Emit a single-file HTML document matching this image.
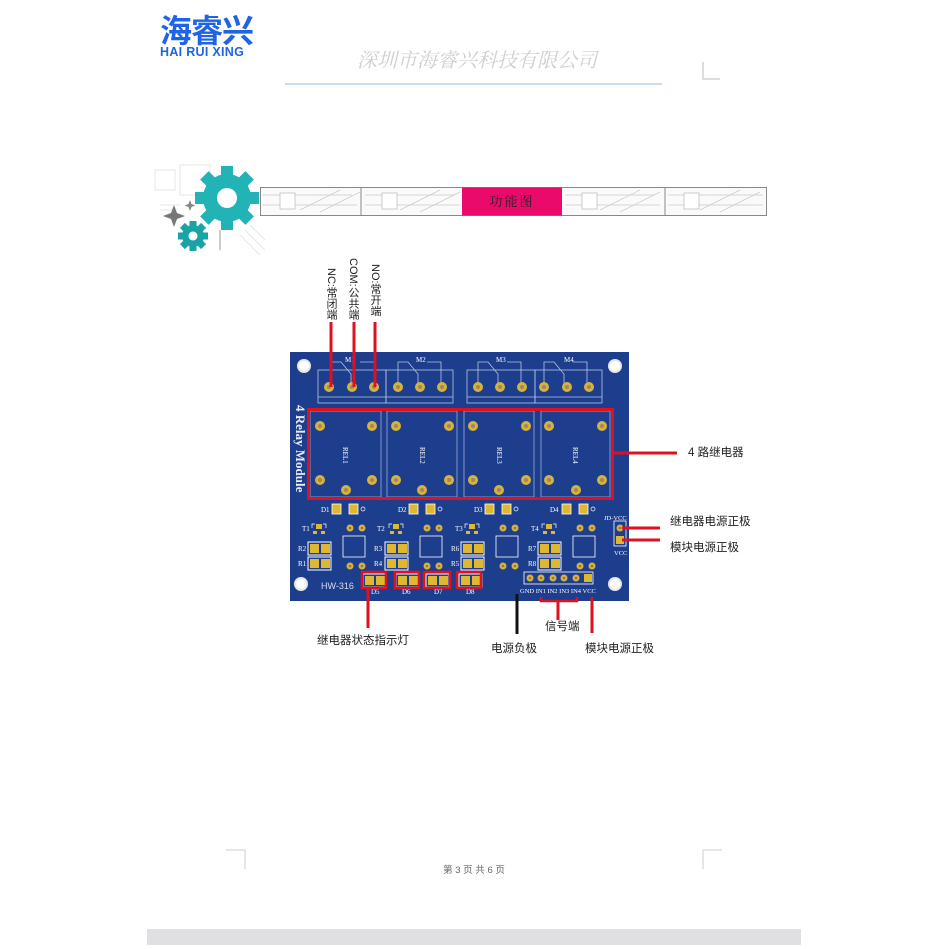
<!DOCTYPE html>
<html><head><meta charset="utf-8"><style>
html,body{margin:0;padding:0;background:#fff;width:949px;height:949px;overflow:hidden}
svg{display:block}
.cj{font-family:"Liberation Sans","Noto Sans CJK SC",sans-serif}
.sf{font-family:"Liberation Serif","Noto Serif CJK SC",serif}
.vt{writing-mode:vertical-rl;text-orientation:mixed}
</style></head><body>
<svg width="949" height="949" viewBox="0 0 949 949" xmlns="http://www.w3.org/2000/svg">
<defs>
  <g id="pad"><circle r="5" fill="#d9b23c"/><circle r="2" fill="#9c8b5a"/></g>
  <g id="spad"><circle r="3.5" fill="#d9b23c"/><circle r="1.3" fill="#8a7a4a"/></g>
  <g id="smd"><rect x="-1" y="-1" width="23" height="13" fill="none" stroke="#fff" stroke-width="1"/><rect x="1" y="1" width="9" height="9" fill="#e0b830"/><rect x="12" y="1" width="9" height="9" fill="#e0b830"/></g>
  <g id="hole"><circle r="7" fill="#e8e8e8"/><circle r="5" fill="#fff"/></g>
</defs>

<!-- header -->
<text x="160" y="42" class="cj" font-size="32" font-weight="bold" fill="#1f63e6" letter-spacing="-1">海睿兴</text>
<text x="160" y="56" class="cj" font-size="12.5" font-weight="bold" fill="#1f63e6" letter-spacing="0.3">HAI RUI XING</text>
<text x="477" y="67" text-anchor="middle" class="sf" font-size="20" font-style="italic" fill="#cfcfcf">深圳市海睿兴科技有限公司</text>
<line x1="285" y1="84" x2="662" y2="84" stroke="#aac8e8" stroke-width="1.2"/>
<polyline points="703,62 703,79 720,79" fill="none" stroke="#bbb" stroke-width="1"/>

<!-- gears -->
<g opacity="0.5" stroke="#bbb" stroke-width="0.7" fill="none">
  <path d="M155 170 h20 v20 h-20z M180 165 h30 v30 h-30z M160 205 h20 M160 210 h15 M240 235 l20 20 M245 230 l20 20 M250 225 l15 15"/>
</g>
<g fill="#21b3b6">
  <g transform="translate(227,198)">
    <circle r="24"/>
    <g id="tooth"><rect x="-6" y="-32" width="12" height="12"/></g>
    <use href="#tooth" transform="rotate(45)"/><use href="#tooth" transform="rotate(90)"/><use href="#tooth" transform="rotate(135)"/>
    <use href="#tooth" transform="rotate(180)"/><use href="#tooth" transform="rotate(225)"/><use href="#tooth" transform="rotate(270)"/><use href="#tooth" transform="rotate(315)"/>
    <circle r="10" fill="#fff"/>
  </g>
  <g transform="translate(193,236)" fill="#1aa3a6">
    <circle r="11"/>
    <g id="t2"><rect x="-3.5" y="-15" width="7" height="6"/></g>
    <use href="#t2" transform="rotate(45)"/><use href="#t2" transform="rotate(90)"/><use href="#t2" transform="rotate(135)"/>
    <use href="#t2" transform="rotate(180)"/><use href="#t2" transform="rotate(225)"/><use href="#t2" transform="rotate(270)"/><use href="#t2" transform="rotate(315)"/>
    <circle r="4.5" fill="#fff"/>
  </g>
</g>
<path d="M174 205 l3 8 8 3 -8 3 -3 8 -3 -8 -8 -3 8 -3z" fill="#777"/>
<path d="M190 200 l1.5 4 4 1.5 -4 1.5 -1.5 4 -1.5 -4 -4 -1.5 4 -1.5z" fill="#888"/>
<line x1="220" y1="230" x2="220" y2="250" stroke="#999" stroke-width="1"/>

<!-- banner -->
<rect x="260.5" y="187.5" width="506" height="28" fill="#fafafa" stroke="#888" stroke-width="1"/>
<g stroke="#ccc" stroke-width="0.7" fill="none">
  <path d="M262 195 h90 M262 205 h95 M300 210 l40 -20 M320 212 l40 -20 M365 195 h90 M365 205 h95 M400 210 l40 -20 M420 212 l40 -20 M565 195 h90 M565 205 h95 M600 210 l40 -20 M620 212 l40 -20 M668 195 h95 M668 205 h95 M700 210 l40 -20 M720 212 l40 -20"/>
</g>
<g fill="#fff" stroke="#aaa" stroke-width="0.6">
  <rect x="280" y="193" width="15" height="16"/><rect x="382" y="193" width="15" height="16"/>
  <rect x="582" y="193" width="15" height="16"/><rect x="684" y="193" width="15" height="16"/>
</g>
<g stroke="#888" stroke-width="1"><line x1="361" y1="188" x2="361" y2="215"/><line x1="665" y1="188" x2="665" y2="215"/></g>
<rect x="462" y="187.5" width="100" height="28" fill="#ea0a6c"/>
<text x="512" y="206" text-anchor="middle" class="sf" font-size="13" fill="#222" letter-spacing="2">功能图</text>

<!-- top labels vertical -->
<g class="cj vt" font-size="11" fill="#222">
  <text x="331" y="268">NC:常闭端</text>
  <text x="353" y="258">COM:公共端</text>
  <text x="375" y="264">NO:常开端</text>
</g>

<!-- PCB -->
<rect x="290" y="352" width="339" height="249" fill="#1d3d8d"/>
<use href="#hole" x="304" y="366"/><use href="#hole" x="615" y="366"/>
<use href="#hole" x="301" y="584"/><use href="#hole" x="615" y="584"/>

<!-- terminal blocks -->
<g fill="none" stroke="#b8c6e0" stroke-width="0.8">
  <rect x="318" y="370" width="68" height="33"/><line x1="318" y1="397" x2="386" y2="397"/>
  <rect x="386" y="370" width="67" height="33"/><line x1="386" y1="397" x2="453" y2="397"/>
  <rect x="467" y="370" width="68" height="33"/><line x1="467" y1="397" x2="535" y2="397"/>
  <rect x="535" y="370" width="67" height="33"/><line x1="535" y1="397" x2="602" y2="397"/>
  <path d="M331 384 v-22 h10 l10 12 v10 M360 362 h14 v22"/>
  <path d="M398 384 v-22 h10 l10 12 v10 M427 362 h14 v22"/>
  <path d="M478 384 v-22 h10 l10 12 v10 M507 362 h14 v22"/>
  <path d="M544 384 v-22 h10 l10 12 v10 M573 362 h14 v22"/>
</g>
<g class="sf" font-size="7" fill="#fff">
  <text x="345" y="362">M1</text><text x="416" y="362">M2</text><text x="496" y="362">M3</text><text x="564" y="362">M4</text>
</g>
<g>
  <use href="#pad" x="329" y="387"/><use href="#pad" x="352" y="387"/><use href="#pad" x="374" y="387"/>
  <use href="#pad" x="398" y="387"/><use href="#pad" x="420" y="387"/><use href="#pad" x="442" y="387"/>
  <use href="#pad" x="478" y="387"/><use href="#pad" x="500" y="387"/><use href="#pad" x="522" y="387"/>
  <use href="#pad" x="544" y="387"/><use href="#pad" x="567" y="387"/><use href="#pad" x="589" y="387"/>
</g>

<text transform="translate(296,405) rotate(90)" class="sf" font-size="13" font-weight="bold" fill="#e8ecf5">4 Relay Module</text>

<!-- relays -->
<g fill="none" stroke="#9fb0d4" stroke-width="0.8">
  <rect x="310" y="411" width="71" height="86"/><rect x="387" y="411" width="70" height="86"/>
  <rect x="464" y="411" width="70" height="86"/><rect x="541" y="411" width="69" height="86"/>
</g>
<g>
  <use href="#pad" x="320" y="426"/><use href="#pad" x="372" y="426"/><use href="#pad" x="320" y="480"/><use href="#pad" x="372" y="480"/><use href="#pad" x="346" y="490"/>
  <use href="#pad" x="396" y="426"/><use href="#pad" x="449" y="426"/><use href="#pad" x="396" y="480"/><use href="#pad" x="449" y="480"/><use href="#pad" x="422" y="490"/>
  <use href="#pad" x="473" y="426"/><use href="#pad" x="526" y="426"/><use href="#pad" x="473" y="480"/><use href="#pad" x="526" y="480"/><use href="#pad" x="499" y="490"/>
  <use href="#pad" x="549" y="426"/><use href="#pad" x="602" y="426"/><use href="#pad" x="549" y="480"/><use href="#pad" x="602" y="480"/><use href="#pad" x="576" y="490"/>
</g>
<g class="sf" font-size="7" fill="#fff">
  <text transform="translate(343,447) rotate(90)">REL1</text><text transform="translate(420,447) rotate(90)">REL2</text>
  <text transform="translate(497,447) rotate(90)">REL3</text><text transform="translate(573,447) rotate(90)">REL4</text>
</g>
<rect x="308.5" y="409.5" width="304" height="89" fill="none" stroke="#e01020" stroke-width="3"/>

<!-- lower components -->
<g class="sf" font-size="7" fill="#fff">
  <text x="321" y="512">D1</text><text x="398" y="512">D2</text><text x="474" y="512">D3</text><text x="550" y="512">D4</text>
  <text x="302" y="531">T1</text><text x="377" y="531">T2</text><text x="455" y="531">T3</text><text x="531" y="531">T4</text>
  <text x="298" y="551">R2</text><text x="298" y="566">R1</text>
  <text x="374" y="551">R3</text><text x="374" y="566">R4</text>
  <text x="451" y="551">R6</text><text x="451" y="566">R5</text>
  <text x="528" y="551">R7</text><text x="528" y="566">R8</text>
  <text x="371" y="594">D5</text><text x="402" y="594">D6</text><text x="434" y="594">D7</text><text x="466" y="594">D8</text>
  <text x="520" y="593" font-size="6.5">GND IN1 IN2 IN3 IN4 VCC</text>
  <text x="604" y="520" font-size="6.5">JD-VCC</text><text x="614" y="555" font-size="6.5">VCC</text>
</g>
<text x="321" y="589" class="cj" font-size="9" fill="#d8def0">HW-316</text>

<g id="ch">
  <rect x="332" y="504" width="9" height="10" fill="#e0b830" stroke="#fff" stroke-width="0.8"/>
  <rect x="349" y="504" width="9" height="10" fill="#e0b830" stroke="#fff" stroke-width="0.8"/>
  <circle cx="363" cy="509" r="2" fill="none" stroke="#fff" stroke-width="0.7"/>
  <rect x="316" y="524" width="6" height="5" fill="#e0b830"/><rect x="313" y="531" width="4" height="3" fill="#e0b830"/><rect x="321" y="531" width="4" height="3" fill="#e0b830"/>
  <path d="M312 528 v-4 h3 M323 524 h3 v4" fill="none" stroke="#fff" stroke-width="0.7"/>
  <use href="#spad" x="350" y="528"/><use href="#spad" x="362" y="528"/>
  <use href="#spad" x="350" y="566"/><use href="#spad" x="362" y="566"/>
  <rect x="343" y="536" width="22" height="21" fill="none" stroke="#fff" stroke-width="0.8"/>
  <use href="#smd" x="309" y="543"/><use href="#smd" x="309" y="558"/>
</g>
<use href="#ch" x="77"/><use href="#ch" x="153"/><use href="#ch" x="230"/>

<use href="#smd" x="364" y="575"/><use href="#smd" x="397" y="575"/><use href="#smd" x="427" y="575"/><use href="#smd" x="460" y="575"/>
<g fill="none" stroke="#e01020" stroke-width="2.5">
  <rect x="362" y="572" width="24" height="16"/><rect x="395" y="572" width="24" height="16"/>
  <rect x="424" y="572" width="26" height="16"/><rect x="457" y="572" width="24" height="16"/>
</g>

<rect x="524" y="572" width="69" height="12" fill="none" stroke="#fff" stroke-width="0.8"/>
<use href="#spad" x="530" y="578"/><use href="#spad" x="541" y="578"/><use href="#spad" x="553" y="578"/><use href="#spad" x="564" y="578"/><use href="#spad" x="576" y="578"/>
<rect x="584" y="574" width="8" height="8" fill="#e0b830"/>
<rect x="614" y="521" width="12" height="25" fill="none" stroke="#fff" stroke-width="0.8"/>
<use href="#spad" x="620" y="528"/><rect x="616" y="536" width="8" height="8" fill="#e0b830"/>

<!-- callout lines -->
<g stroke="#e01020" stroke-width="3">
  <line x1="331" y1="322" x2="331" y2="387"/><line x1="354" y1="322" x2="354" y2="387"/><line x1="375" y1="322" x2="375" y2="387"/>
  <line x1="613" y1="453" x2="677" y2="453"/>
  <line x1="622" y1="528" x2="660" y2="528"/><line x1="622" y1="540" x2="660" y2="540"/>
  <line x1="368" y1="588" x2="368" y2="628"/>
  <line x1="592" y1="597" x2="592" y2="633"/>
  <line x1="558" y1="601" x2="558" y2="620"/>
</g>
<path d="M541 597 v4 h36 v-4" fill="none" stroke="#e01020" stroke-width="2.5"/>
<line x1="517" y1="594" x2="517" y2="634" stroke="#111" stroke-width="3"/>

<g class="cj" font-size="11.5" fill="#222">
  <text x="688" y="456">4 路继电器</text>
  <text x="670" y="525">继电器电源正极</text>
  <text x="670" y="551">模块电源正极</text>
  <text x="317" y="644">继电器状态指示灯</text>
  <text x="545" y="630">信号端</text>
  <text x="491" y="652">电源负极</text>
  <text x="585" y="652">模块电源正极</text>
</g>

<!-- footer -->
<polyline points="226,850 245,850 245,869" fill="none" stroke="#ccc" stroke-width="1"/>
<polyline points="703,869 703,850 722,850" fill="none" stroke="#ccc" stroke-width="1"/>
<text x="474" y="873" text-anchor="middle" class="cj" font-size="9.5" fill="#666">第 3 页 共 6 页</text>
<rect x="147" y="929" width="654" height="16" fill="#e0e0e2"/>
</svg>
</body></html>
